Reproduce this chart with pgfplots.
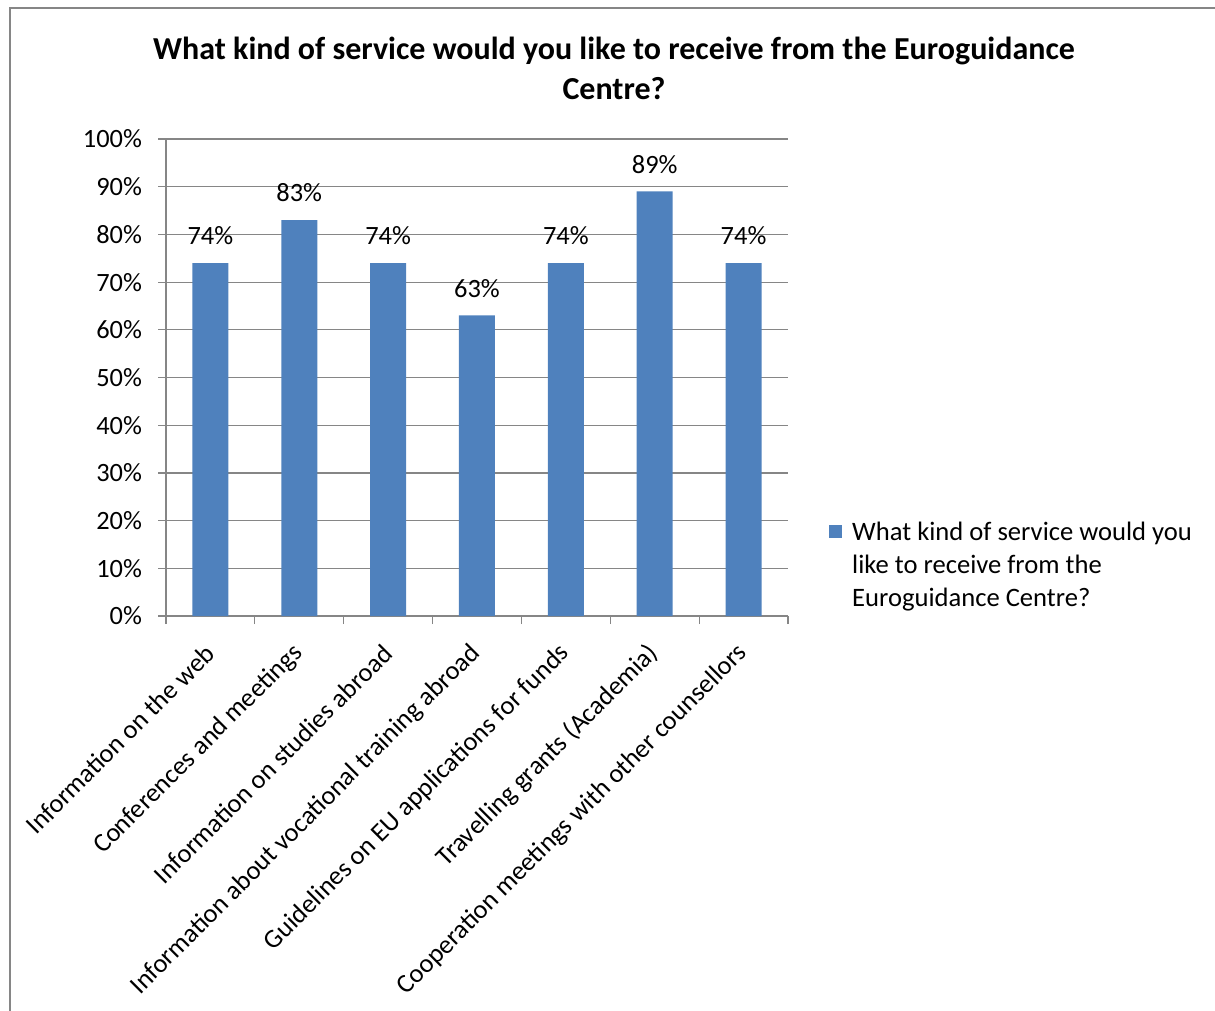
\documentclass[border=0pt]{standalone}
\usepackage{pgfplots}
\pgfplotsset{compat=1.18}
\usepackage{fontspec}
\setmainfont{Carlito}
\definecolor{barblue}{RGB}{79,129,189}
\definecolor{gridgray}{RGB}{134,134,134}
\definecolor{framegray}{RGB}{134,134,134}
\begin{document}
\begin{tikzpicture}
\useasboundingbox (0pt,0pt) rectangle (607.5pt,-505.5pt);
\draw[framegray, line width=1pt] (5pt,-505.5pt) -- (5pt,-4pt) -- (607.5pt,-4pt);
\node[align=center, font=\fontsize{16}{20}\selectfont\bfseries] at (307pt,-34pt)
  {What kind of service would you like to receive from the Euroguidance\\Centre?};
\begin{axis}[
  at={(83pt,-308pt)}, anchor=south west,
  scale only axis,
  width=311pt, height=238.5pt,
  ymin=0, ymax=100,
  xmin=-0.5, xmax=6.5,
  ytick={0,10,...,100},
  yticklabel={\pgfmathprintnumber{\tick}\%},
  /pgf/number format/assume math mode=true,
  xtick={0,1,2,3,4,5,6},
  xticklabels={Information on the web, Conferences and meetings, Information on studies abroad, Information about vocational training abroad, Guidelines on EU applications for funds, Travelling grants (Academia), Cooperation meetings with other counsellors},
  minor xtick={-0.5,0.5,...,6.5},
  major x tick style={draw=none},
  minor tick length=4pt,
  major tick length=4pt,
  tick align=outside,
  tick style={gridgray, line width=0.6pt},
  ymajorgrids,
  grid style={gridgray, line width=0.6pt},
  axis x line*=bottom, axis y line*=left,
  axis line style={-, gridgray, line width=0.6pt},
  ticklabel style={font=\fontsize{13.2}{15}\selectfont},
  xticklabel style={rotate=45, anchor=east, xshift=-5.6pt, yshift=-8.8pt},
  yticklabel style={xshift=-4.5pt},
  ybar, bar width=18pt,
  nodes near coords={\pgfmathprintnumber{\pgfplotspointmeta}\%},
  nodes near coords style={font=\fontsize{13.2}{15}\selectfont, black, /pgf/number format/assume math mode=true, yshift=5.5pt},
  legend style={at={(1.056,0.18)}, anchor=west, draw=none, fill=none, font=\fontsize{13.3}{16.5}\selectfont},
  legend cell align=left,
  legend image code/.code={\fill[barblue] (0pt,-4pt) rectangle (6.5pt,2.5pt);},
]
\addplot[fill=barblue, draw=none] coordinates {(0,74) (1,83) (2,74) (3,63) (4,74) (5,89) (6,74)};
\addlegendentry{\hspace{3pt}\begin{tabular}[t]{@{}l@{}}What kind of service would you\\like to receive from the\\Euroguidance Centre?\end{tabular}}
\end{axis}
\end{tikzpicture}
\end{document}
